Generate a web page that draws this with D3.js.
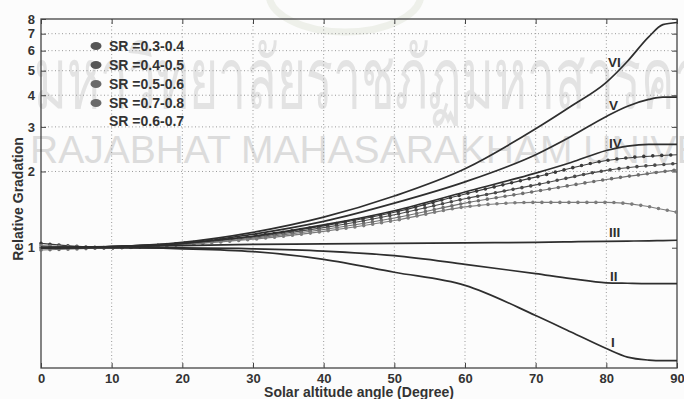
<!DOCTYPE html>
<html>
<head>
<meta charset="utf-8">
<script src="https://cdn.jsdelivr.net/npm/d3@7"></script>
<style>
  html, body { margin: 0; padding: 0; background: #fcfcfc; }
  svg { display: block; }
  text { font-family: "Liberation Sans", Arial, sans-serif; }
</style>
</head>
<body>
<svg id="chart" width="684" height="399"></svg>
<script>
// Solar altitude angle (degrees) at which each curve is sampled
const curveAngles = [0, 10, 20, 30, 40, 50, 60, 70, 75, 80, 83, 86, 88, 90];
// Reference curves I–VI (relative gradation)
const curveVI  = [1.0, 1.01, 1.05, 1.15, 1.32, 1.6, 2.05, 2.95, 3.62, 4.5, 5.45, 6.8, 7.6, 7.75];
const curveV   = [1.0, 1.01, 1.04, 1.13, 1.27, 1.5, 1.82, 2.33, 2.75, 3.3, 3.62, 3.85, 3.93, 3.93];
const curveIV  = [1.0, 1.01, 1.04, 1.11, 1.23, 1.4, 1.66, 1.97, 2.17, 2.42, 2.52, 2.56, 2.56, 2.56];
const curveIII = [1.0, 1.01, 1.02, 1.03, 1.035, 1.04, 1.045, 1.05, 1.055, 1.06, 1.062, 1.065, 1.067, 1.07];
const curveII  = [1.0, 1.0, 0.998, 0.99, 0.97, 0.93, 0.86, 0.79, 0.755, 0.727, 0.724, 0.722, 0.722, 0.722];
const curveI   = [1.0, 1.0, 0.99, 0.965, 0.9, 0.8, 0.71, 0.54, 0.465, 0.4, 0.37, 0.36, 0.358, 0.358];
const curveNames = ["VI", "V", "IV", "III", "II", "I"];

// Measured series by sky ratio (SR)
const srAngles = [0, 10, 20, 30, 40, 50, 60, 70, 80, 90];
const sr03_04 = [1.04, 1.0, 1.04, 1.11, 1.22, 1.38, 1.63, 1.9, 2.21, 2.33];
const sr04_05 = [1.0, 1.0, 1.04, 1.10, 1.20, 1.35, 1.56, 1.77, 2.02, 2.15];
const sr05_06 = [0.98, 1.0, 1.03, 1.09, 1.18, 1.31, 1.5, 1.67, 1.86, 2.03];
const sr07_08 = [1.02, 1.0, 1.03, 1.08, 1.16, 1.28, 1.45, 1.51, 1.51, 1.38];
const legendLabels = ["SR =0.3-0.4", "SR =0.4-0.5", "SR =0.5-0.6", "SR =0.7-0.8", "SR =0.6-0.7"];

const xTicks = [0, 10, 20, 30, 40, 50, 60, 70, 80, 90];
const yTicks = [1, 2, 3, 4, 5, 6, 7, 8];

const svg = d3.select("#chart");
const plotL = 41, plotR = 677, plotT = 19, plotB = 368;

const x = d3.scaleLinear().domain([0, 90]).range([plotL, plotR]);
const y = d3.scaleLog().domain([0.335, 8]).range([plotB, plotT]);

// Watermark: faint emblem arc and university name
svg.append("ellipse")
  .attr("cx", 345).attr("cy", -6).attr("rx", 76).attr("ry", 38)
  .attr("fill", "none").attr("stroke", "#eef0ea").attr("stroke-width", 7);
const wm = svg.append("g");
wm.append("text").attr("transform", "translate(34,108) scale(1,1.7)")
  .attr("font-size", 50).attr("font-family", "'Noto Sans Thai', 'Noto Sans', sans-serif")
  .attr("fill", "#e3e3e3")
  .text("มหาวิทยาลัยราชภัฏมหาสารคาม");
wm.append("text").attr("x", 30).attr("y", 163)
  .attr("font-size", 39).attr("font-family", "Roboto, 'Liberation Sans', sans-serif")
  .attr("font-weight", 300).attr("fill", "#dcdcdc")
  .text("RAJABHAT MAHASARAKHAM UNIVERSITY");

// Dotted grid
const grid = svg.append("g").attr("stroke", "#9a9a9a").attr("stroke-width", 1)
  .attr("stroke-dasharray", "1,2.5");
grid.selectAll("line.gx").data(xTicks.slice(1, -1)).join("line").attr("class", "gx")
  .attr("x1", d => x(d)).attr("x2", d => x(d)).attr("y1", plotT).attr("y2", plotB);
grid.selectAll("line.gy").data(yTicks.slice(1, -1)).join("line").attr("class", "gy")
  .attr("y1", d => y(d)).attr("y2", d => y(d)).attr("x1", plotL).attr("x2", plotR);

// Axes (ticks pointing inward, boxed)
const axisStyle = g => {
  g.select(".domain").remove();
  g.selectAll(".tick line").attr("stroke", "#444").attr("stroke-width", 1);
  g.selectAll(".tick text").attr("font-size", 13).attr("font-weight", "bold")
    .attr("fill", "#333").attr("font-family", "'Liberation Sans', Arial, sans-serif");
};
svg.append("g").attr("transform", `translate(0,${plotB})`)
  .call(d3.axisBottom(x).tickValues(xTicks).tickFormat(d3.format("d")).tickSizeInner(-5).tickPadding(6))
  .call(axisStyle);
svg.append("g").attr("transform", `translate(0,${plotT})`)
  .call(d3.axisTop(x).tickValues(xTicks).tickFormat("").tickSizeInner(-5))
  .call(axisStyle);
svg.append("g").attr("transform", `translate(${plotL},0)`)
  .call(d3.axisLeft(y).tickValues(yTicks).tickFormat(d3.format("d")).tickSizeInner(-5).tickPadding(6))
  .call(axisStyle);
svg.append("g").attr("transform", `translate(${plotR},0)`)
  .call(d3.axisRight(y).tickValues(yTicks).tickFormat("").tickSizeInner(-5))
  .call(axisStyle);

svg.append("rect").attr("x", plotL).attr("y", plotT)
  .attr("width", plotR - plotL).attr("height", plotB - plotT)
  .attr("fill", "none").attr("stroke", "#444").attr("stroke-width", 1.3);

// Axis titles
svg.append("text").attr("x", 359).attr("y", 397).attr("text-anchor", "middle")
  .attr("font-size", 14).attr("font-weight", "bold").attr("fill", "#333")
  .text("Solar altitude angle (Degree)");
svg.append("text").attr("transform", "translate(23,199) rotate(-90)")
  .attr("text-anchor", "middle").attr("font-size", 14).attr("font-weight", "bold")
  .attr("fill", "#333").text("Relative Gradation");

const line = (angles) => d3.line()
  .x((d, i) => x(angles[i])).y(d => y(d)).curve(d3.curveMonotoneX);

// SR series: thin line with dense round markers
const srSeries = [
  { v: sr03_04, c: "#3a3a3a" },
  { v: sr04_05, c: "#4a4a4a" },
  { v: sr05_06, c: "#6e6e6e" },
  { v: sr07_08, c: "#7c7c7c" }
];
const srG = svg.append("g").attr("fill", "none");
srSeries.forEach(s => {
  srG.append("path").attr("d", line(srAngles)(s.v))
    .attr("stroke", s.c).attr("stroke-width", 1.1);
  srG.append("path").attr("d", line(srAngles)(s.v))
    .attr("stroke", s.c).attr("stroke-width", 3.6)
    .attr("stroke-linecap", "round").attr("stroke-dasharray", "0,9");
});

// Curves I–VI
const curves = [curveVI, curveV, curveIV, curveIII, curveII, curveI];
svg.append("g").attr("fill", "none").selectAll("path").data(curves).join("path")
  .attr("d", d => line(curveAngles)(d))
  .attr("stroke", "#2e2e2e").attr("stroke-width", 1.7);

// Curve labels
const labelPos = [[608, 67], [609, 110], [609, 148], [609, 237], [610, 281], [611, 347]];
svg.append("g").selectAll("text").data(curveNames).join("text")
  .attr("x", (d, i) => labelPos[i][0]).attr("y", (d, i) => labelPos[i][1])
  .attr("font-size", 13.5).attr("font-weight", "bold").attr("fill", "#2e2e2e")
  .attr("font-family", "'Liberation Sans Narrow', 'Liberation Sans', sans-serif")
  .text(d => d);

// Legend
const lg = svg.append("g");
legendLabels.forEach((t, i) => {
  const ly = [46, 65, 84, 103, 121][i];
  if (i < 4) {
    lg.append("ellipse").attr("cx", 96).attr("cy", ly).attr("rx", 5.5).attr("ry", 4)
      .attr("fill", i < 2 ? "#555" : "#6a6a6a");
  }
  lg.append("text").attr("x", 109).attr("y", ly + 5)
    .attr("font-size", 14).attr("font-weight", "bold").attr("fill", "#333").text(t);
});
</script>
</body>
</html>
